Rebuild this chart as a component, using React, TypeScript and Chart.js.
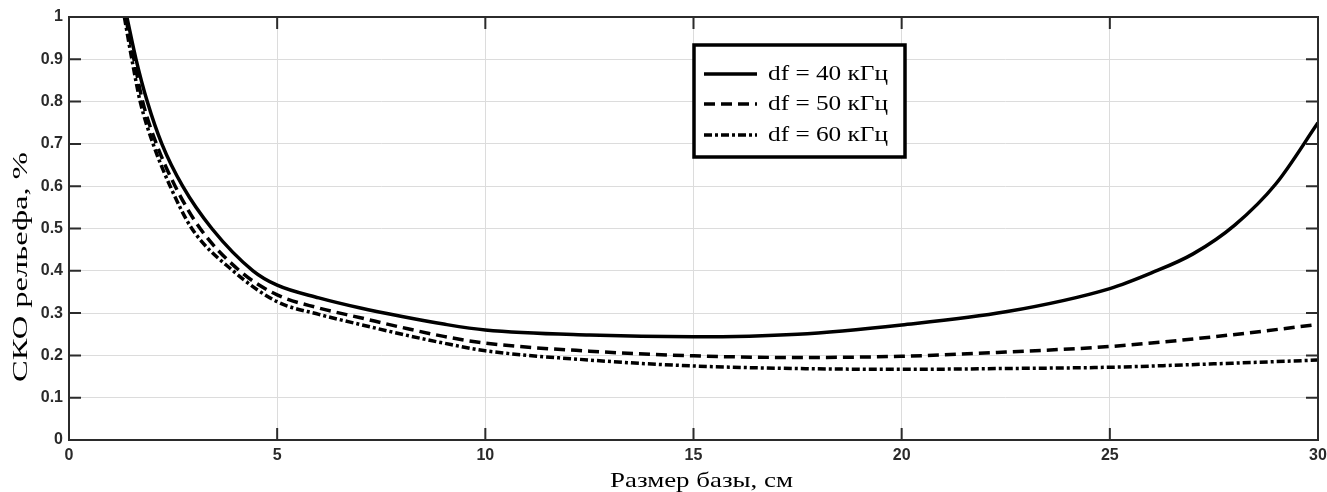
import React, { useEffect, useRef } from 'react';
import { Chart, registerables } from 'chart.js';

Chart.register(...registerables);

// ---- data ----
const xAxisTitle = 'Размер базы, см';
const yAxisTitle = 'СКО рельефа, %';
const seriesLabels = ['df = 40 кГц', 'df = 50 кГц', 'df = 60 кГц'];

const x40 = [1.39, 1.61, 1.88, 2.23, 2.73, 3.43, 4.42, 5, 6, 7, 8, 9, 10, 12.5, 15, 17.5, 20, 22.5, 25, 26, 27, 28, 29, 30];
const y40 = [1.0, 0.9, 0.8, 0.7, 0.6, 0.5, 0.4, 0.366, 0.336, 0.312, 0.292, 0.274, 0.26, 0.248, 0.244, 0.25, 0.272, 0.303, 0.358, 0.395, 0.44, 0.508, 0.607, 0.75];

const x50 = [1.36, 1.56, 1.77, 2.1, 2.55, 3.15, 4.1, 5, 6, 7, 8, 9, 10, 12.5, 15, 17.5, 20, 22.5, 25, 27.5, 30];
const y50 = [1.0, 0.9, 0.8, 0.7, 0.6, 0.5, 0.4, 0.343, 0.312, 0.289, 0.266, 0.245, 0.229, 0.21, 0.199, 0.195, 0.198, 0.208, 0.221, 0.244, 0.273];

const x60 = [1.33, 1.51, 1.71, 2.02, 2.43, 2.95, 3.94, 5, 6, 7, 8, 9, 10, 12.5, 15, 17.5, 20, 22.5, 25, 27.5, 30];
const y60 = [1.0, 0.9, 0.8, 0.7, 0.6, 0.5, 0.4, 0.327, 0.297, 0.273, 0.25, 0.229, 0.211, 0.189, 0.175, 0.169, 0.167, 0.169, 0.172, 0.18, 0.189];

const xMin = 0, xMax = 30, xStep = 5;
const yMin = 0, yMax = 1, yStep = 0.1;

const toPoints = (xs: number[], ys: number[]) => xs.map((x, i) => ({ x, y: ys[i] }));

const SERIF = '"Liberation Serif", "Times New Roman", serif';
const SANS = '"Liberation Sans", Arial, sans-serif';

// draw text stretched along its direction to a target length
function stretchedText(ctx: any, text: string, cx: number, cy: number, target: number, rotate: boolean) {
  ctx.save();
  ctx.translate(cx, cy);
  if (rotate) ctx.rotate(-Math.PI / 2);
  const w = ctx.measureText(text).width;
  ctx.scale(target / w, 1);
  ctx.textAlign = 'center';
  ctx.textBaseline = 'middle';
  ctx.fillText(text, 0, 0);
  ctx.restore();
}

const framePlugin = {
  id: 'framePlugin',
  afterDatasetsDraw(chart: any) {
    const { ctx, chartArea: a, scales } = chart;
    ctx.save();
    ctx.strokeStyle = '#2b2b2b';
    ctx.lineWidth = 2;
    ctx.strokeRect(a.left, a.top, a.right - a.left, a.bottom - a.top);
    const tl = 12;
    ctx.beginPath();
    scales.x.ticks.forEach((t: any) => {
      const px = scales.x.getPixelForValue(t.value);
      ctx.moveTo(px, a.bottom);
      ctx.lineTo(px, a.bottom - tl);
      ctx.moveTo(px, a.top);
      ctx.lineTo(px, a.top + tl);
    });
    scales.y.ticks.forEach((t: any) => {
      const py = scales.y.getPixelForValue(t.value);
      ctx.moveTo(a.left, py);
      ctx.lineTo(a.left + tl, py);
      ctx.moveTo(a.right, py);
      ctx.lineTo(a.right - tl, py);
    });
    ctx.stroke();

    // axis titles
    ctx.fillStyle = '#000';
    ctx.font = `22px ${SERIF}`;
    stretchedText(ctx, yAxisTitle, 21, 267, 230, true);
    stretchedText(ctx, xAxisTitle, (a.left + a.right) / 2 + 8, 481, 183, false);
    ctx.restore();
  },
  afterDraw(chart: any) {
    const { ctx } = chart;
    const ds = chart.data.datasets;
    ctx.save();
    const bx = 694, by = 45, bw = 211, bh = 112;
    ctx.fillStyle = '#fff';
    ctx.fillRect(bx, by, bw, bh);
    ctx.strokeStyle = '#000';
    ctx.lineWidth = 3.5;
    ctx.strokeRect(bx, by, bw, bh);
    const rows = [74, 104, 135];
    ds.forEach((d: any, i: number) => {
      const y = rows[i];
      ctx.beginPath();
      ctx.setLineDash(d.borderDash || []);
      ctx.lineWidth = d.borderWidth;
      ctx.strokeStyle = d.borderColor;
      ctx.moveTo(704, y);
      ctx.lineTo(757, y);
      ctx.stroke();
      ctx.setLineDash([]);
      ctx.fillStyle = '#000';
      ctx.font = `22px ${SERIF}`;
      stretchedText(ctx, d.label, 828, y, 120, false);
    });
    ctx.restore();
  },
};

export default function App() {
  const ref = useRef<HTMLCanvasElement | null>(null);
  useEffect(() => {
    document.body.style.margin = '0';
    if (!ref.current) return;
    const common = {
      borderColor: '#000',
      backgroundColor: '#000',
      pointRadius: 0,
      fill: false,
      cubicInterpolationMode: 'monotone' as const,
    };
    const chart = new Chart(ref.current, {
      type: 'line',
      data: {
        datasets: [
          { ...common, label: seriesLabels[0], data: toPoints(x40, y40), borderWidth: 3.5, borderDash: [] },
          { ...common, label: seriesLabels[1], data: toPoints(x50, y50), borderWidth: 3.5, borderDash: [11, 6] },
          { ...common, label: seriesLabels[2], data: toPoints(x60, y60), borderWidth: 3.5, borderDash: [8, 3, 3, 3] },
        ],
      },
      options: {
        animation: false,
        responsive: false,
        maintainAspectRatio: false,
        layout: { padding: { top: 17, right: 9, left: 0, bottom: 0 } },
        plugins: { legend: { display: false }, tooltip: { enabled: false } },
        scales: {
          x: {
            type: 'linear',
            min: xMin,
            max: xMax,
            afterFit: (s: any) => { s.height = 52; s.paddingLeft = 0; s.paddingRight = 0; },
            ticks: { stepSize: xStep, color: '#2a2a2a', padding: 6, font: { family: SANS, size: 16, weight: 'bold' }, maxRotation: 0 },
            grid: { color: '#dcdcdc', lineWidth: 1, drawTicks: false },
            border: { display: false },
          },
          y: {
            type: 'linear',
            min: yMin,
            max: yMax,
            afterFit: (s: any) => { s.width = 69; s.paddingTop = 0; s.paddingBottom = 0; },
            ticks: {
              stepSize: yStep,
              color: '#2a2a2a',
              padding: 6,
              font: { family: SANS, size: 16, weight: 'bold' },
              callback: (v: any) => String(Math.round(Number(v) * 10) / 10),
            },
            grid: { color: '#dcdcdc', lineWidth: 1, drawTicks: false },
            border: { display: false },
          },
        },
      },
      plugins: [framePlugin],
    });
    return () => chart.destroy();
  }, []);
  return (
    <div style={{ width: 1327, height: 492, background: '#fff' }}>
      <canvas ref={ref} width={1327} height={492} style={{ display: 'block' }} />
    </div>
  );
}
